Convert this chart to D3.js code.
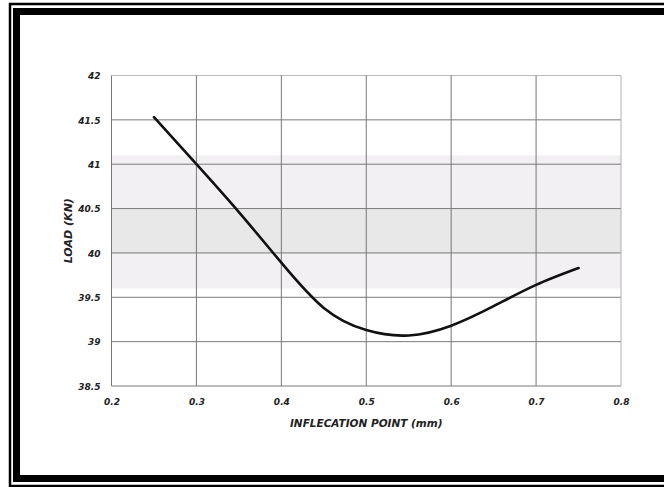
<!DOCTYPE html>
<html>
<head>
<meta charset="utf-8">
<script src="https://cdnjs.cloudflare.com/ajax/libs/d3/7.8.5/d3.min.js"></script>
<style>
  body { margin: 0; background: #fff; }
  svg text { font-family: "DejaVu Sans", "Liberation Sans", Arial, sans-serif; font-weight: bold; font-style: italic; fill: #222; }
</style>
</head>
<body>
<div id="chart"></div>
<script>
// values
var inflection = [0.25, 0.30, 0.35, 0.40, 0.45, 0.50, 0.55, 0.60, 0.65, 0.70, 0.75];
var load       = [41.53, 41.0, 40.46, 39.89, 39.38, 39.13, 39.07, 39.18, 39.4, 39.64, 39.83];
var xTicks = [0.2, 0.3, 0.4, 0.5, 0.6, 0.7, 0.8];
var yTicks = [38.5, 39, 39.5, 40, 40.5, 41, 41.5, 42];
var xTitle = "INFLECATION POINT (mm)";
var yTitle = "LOAD (KN)";

var W = 664, H = 487;
var svg = d3.select("#chart").append("svg").attr("width", W).attr("height", H);

// double frame
svg.append("rect").attr("x", 10).attr("y", 4).attr("width", 664).attr("height", 482)
  .attr("fill", "none").attr("stroke", "#000").attr("stroke-width", 2.5);
svg.append("rect").attr("x", 16.5).attr("y", 11.5).attr("width", 664).attr("height", 467)
  .attr("fill", "none").attr("stroke", "#000").attr("stroke-width", 7);

var x = d3.scaleLinear().domain([0.2, 0.8]).range([111.5, 621]);
var y = d3.scaleLinear().domain([38.5, 42]).range([386, 75.5]);

var g = svg.append("g");

// faint scan smear behind the grid
g.append("rect")
  .attr("x", x(0.2)).attr("width", x(0.8) - x(0.2))
  .attr("y", y(41.1)).attr("height", y(39.6) - y(41.1))
  .attr("fill", "#f2f0f2");
g.append("rect")
  .attr("x", x(0.2)).attr("width", x(0.8) - x(0.2))
  .attr("y", y(40.5)).attr("height", y(40) - y(40.5))
  .attr("fill", "#e9e8e9");

// grid
g.selectAll(".hgrid").data(yTicks).enter().append("line")
  .attr("x1", x(0.2)).attr("x2", x(0.8))
  .attr("y1", function(d) { return y(d); }).attr("y2", function(d) { return y(d); })
  .attr("stroke", function(d) { return d == 42 ? "#b8b8b8" : "#7a7a7a"; })
  .attr("stroke-width", 1);
g.selectAll(".vgrid").data(xTicks).enter().append("line")
  .attr("y1", y(42)).attr("y2", y(38.5))
  .attr("x1", function(d) { return x(d); }).attr("x2", function(d) { return x(d); })
  .attr("stroke", function(d) { return d == 0.8 ? "#b0b0b0" : "#777"; })
  .attr("stroke-width", 1);

// axes (labels only, lines come from the grid)
var xAxis = g.append("g").attr("transform", "translate(0," + (y(38.5) + 10) + ")")
  .call(d3.axisBottom(x).tickValues(xTicks).tickSize(0).tickFormat(d3.format(".1f")));
var yAxis = g.append("g").attr("transform", "translate(" + (x(0.2) - 8) + ",0)")
  .call(d3.axisLeft(y).tickValues(yTicks).tickSize(0).tickFormat(function(d) { return String(d); }));
[xAxis, yAxis].forEach(function(a) {
  a.select(".domain").remove();
  a.selectAll("text").attr("font-size", 9).attr("font-family", null);
});
yAxis.selectAll("text").attr("dy", "0.35em");

// curve
var pts = inflection.map(function(v, i) { return [v, load[i]]; });
var line = d3.line()
  .x(function(d) { return x(d[0]); })
  .y(function(d) { return y(d[1]); })
  .curve(d3.curveNatural);
g.append("path").datum(pts)
  .attr("d", line)
  .attr("fill", "none").attr("stroke", "#111").attr("stroke-width", 2.6)
  .attr("stroke-linecap", "round");

// titles
svg.append("text").attr("x", (x(0.2) + x(0.8)) / 2).attr("y", 427)
  .attr("text-anchor", "middle").attr("font-size", 10.5).text(xTitle);
svg.append("text").attr("transform", "translate(72," + ((y(38.5) + y(42)) / 2) + ") rotate(-90)")
  .attr("text-anchor", "middle").attr("font-size", 11).text(yTitle);
</script>
</body>
</html>
